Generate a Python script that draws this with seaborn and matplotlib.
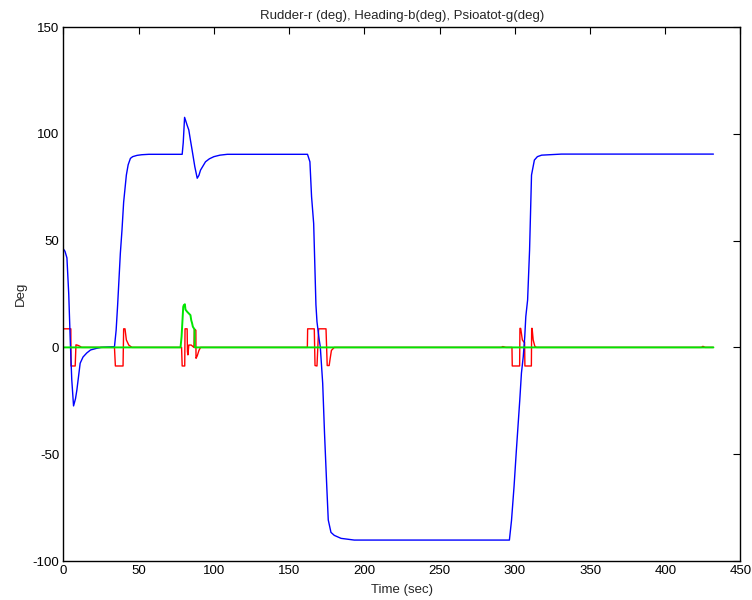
import numpy as np
import pandas as pd
import matplotlib
matplotlib.use("Agg")
import matplotlib.pyplot as plt
import seaborn as sns

# heading (blue)
heading_t = [0, 1, 2.3, 3.5, 4.5, 5.5, 6.7, 8, 8.9, 11.1, 13, 15.5, 18, 22.2, 25,
             33.9, 35, 36, 37.8, 38.9, 40, 41.8, 43, 44.5, 46, 48.9, 52, 56.7,
             78.9, 79.6, 80.5, 81.3, 82.2, 83.3, 84.4, 85.5, 87.3, 88.9, 90, 91.1,
             94.4, 97, 100, 104, 108.9,
             162.2, 163.8, 164.9, 166.3, 167.1, 167.8, 168.5, 170, 170.7, 172.3,
             173.5, 175, 176, 177.8, 180, 184.5, 193.3,
             296.4, 297.8, 299.5, 301, 303.3, 304.4, 305.6, 306.6, 307.3, 308.5,
             309.8, 311.1, 313, 315, 317.8, 331, 432]
heading_deg = [46, 45, 41.9, 25, 3.5, -15, -27.4, -24, -20, -7.4, -4.5, -2.6, -1.2, -0.4, 0,
               0.3, 8, 19.8, 44, 55, 68, 80.7, 85.5, 88.5, 89.3, 89.9, 90.2, 90.4,
               90.4, 95.8, 107.7, 106, 104, 101.8, 97, 92.4, 84.6, 79.2, 80.5, 83,
               86.9, 88.3, 89.3, 90, 90.4,
               90.4, 86.9, 70.6, 58, 37.8, 20, 12, 3.5, 0.3, -16.8,
               -40, -65, -80.8, -86.6, -88, -89.4, -90.2,
               -90.2, -81, -65, -48.5, -24.6, -12, -4.4, 5, 14.4, 22.2,
               45.5, 80.7, 87.7, 89.3, 90, 90.5, 90.5]

# rudder (red)
rudder_t = [0, 4.9, 5.0, 7.8, 8.3, 9.5, 11, 12,
            33.9, 34.5, 39.6, 40.0, 40.9, 41.8, 43.4, 45.5,
            78.5, 78.9, 80.6, 80.8, 82.2, 82.4, 82.7, 83.3, 84.9, 86.7, 87.0,
            87.6, 88.0, 88.1, 88.9, 90, 91.1,
            162.1, 162.3, 166.7, 167.2, 168.5, 169.6, 174.5, 175.3, 176.6, 177.2,
            178.1, 180,
            291, 292, 294, 298.1, 298.3, 303.2, 303.4, 303.9, 305, 306, 306.5, 306.7,
            311.0, 311.2, 311.5, 312.2, 313.3, 314.4,
            424, 425, 426.5, 432]
rudder_deg = [8.7, 8.7, -8.7, -8.7, 1.2, 1.0, 0.5, 0,
              0, -8.7, -8.7, 8.7, 8.7, 3.5, 1.1, 0,
              0, -8.7, -8.7, 8.7, 8.7, -2, -3.5, 1.1, 1.1, 0, 8.5,
              8.3, 8.0, -5.1, -4, -1.5, 0,
              0, 8.7, 8.7, -8.5, -8.7, 8.7, 8.7, -8.5, -8.5, -5.5,
              -1.4, 0,
              0, 0.4, 0, 0, -8.7, -8.7, 8.9, 8.9, 3.5, 2.5, 2.5, -8.7,
              -8.7, 8.9, 8.9, 3.5, 0.5, 0,
              0, 0.5, 0, 0]

# psi_oatot (green)
psi_t = [0, 77.8, 78.5, 79.6, 80.0, 80.7, 81.1, 82.2, 83.3, 84.4, 84.9, 85.5, 86,
         86.7, 87.1, 87.3, 432]
psi_deg = [0, 0, 5, 19, 19.8, 20.2, 17.7, 16.7, 15.9, 15.1, 12.8, 11.3, 9.7,
           8.9, 8.5, 0, 0]

x_ticks = [0, 50, 100, 150, 200, 250, 300, 350, 400, 450]
y_ticks = [-100, -50, 0, 50, 100, 150]

sns.set_style("white")
plt.rcParams["font.family"] = ["Liberation Sans", "DejaVu Sans"]
plt.rcParams["axes.unicode_minus"] = False

fig = plt.figure(figsize=(7.52, 6.0), dpi=100)
ax = fig.add_axes([0.0844, 0.065, 0.9003, 0.89])

series = [
    (rudder_t, rudder_deg, "#ff0000", 1.0),
    (heading_t, heading_deg, "#0000ff", 1.0),
    (psi_t, psi_deg, "#00e600", 1.4),
]
for t, v, c, w in series:
    df = pd.DataFrame({"t": t, "v": v})
    sns.lineplot(data=df, x="t", y="v", color=c, lw=w, sort=False,
                 estimator=None, ax=ax)

ax.set_xlim(0, 450)
ax.set_ylim(-100, 150)
ax.set_xticks(x_ticks)
ax.set_yticks(y_ticks)
ax.tick_params(direction="in", top=True, right=True, length=5, width=0.8,
               labelsize=9.5, colors="black", pad=3)
for s in ax.spines.values():
    s.set_visible(True)
    s.set_color("black")
    s.set_linewidth(1.0)

ax.set_title("Rudder-r (deg), Heading-b(deg), Psioatot-g(deg)", fontsize=9.5, pad=6)
ax.set_xlabel("Time (sec)", fontsize=9.5, labelpad=5)
ax.set_ylabel("Deg", fontsize=9.5, labelpad=4)

fig.savefig("out.png", dpi=100)
